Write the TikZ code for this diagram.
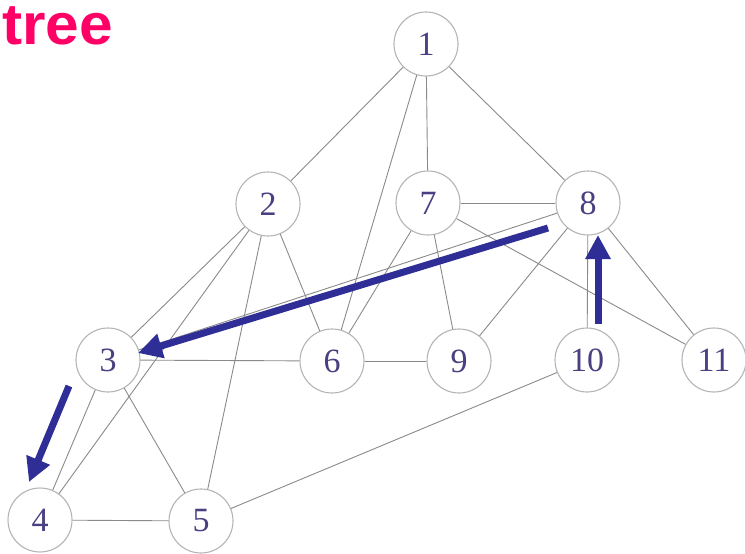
\documentclass[tikz,border=0pt]{standalone}
\usepackage{fontspec}
\setmainfont{Liberation Serif}
\newfontfamily\titlefont{Liberation Sans}
\usetikzlibrary{arrows.meta}
\definecolor{titlepink}{HTML}{FF0066}
\definecolor{numcol}{HTML}{4A3F80}
\definecolor{arrblue}{HTML}{2E2E96}
\definecolor{edgegray}{HTML}{8A8A8A}
\definecolor{circgray}{HTML}{B4B4B4}
\tikzset{
  vtx/.style={circle, draw=circgray, line width=1.1pt, minimum size=64pt, inner sep=0pt,
              text=numcol, font=\fontsize{34}{34}\selectfont},
  edge/.style={draw=edgegray, line width=0.9pt},
  bluearr/.style={draw=arrblue, line width=7pt, -{Triangle[length=24pt,width=24pt]}}
}
\begin{document}
\begin{tikzpicture}[x=1pt,y=-1pt]
\useasboundingbox (0,0) rectangle (745,554);
\node[anchor=base west, inner sep=0pt, text=titlepink, xscale=1.04, font=\titlefont\bfseries\fontsize{58}{58}\selectfont] (title) at (2,45) {tree};
\node[vtx] (n1) at (426,44) {1};
\node[vtx] (n2) at (268,204) {2};
\node[vtx] (n7) at (428,203) {7};
\node[vtx] (n8) at (588,203) {8};
\node[vtx] (n3) at (108,360) {3};
\node[vtx] (n6) at (332,361) {6};
\node[vtx] (n9) at (459,361) {9};
\node[vtx] (n10) at (587,360) {10};
\node[vtx] (n11) at (714,360) {11};
\node[vtx] (n4) at (40,520) {4};
\node[vtx] (n5) at (201,521) {5};
\path[edge] (n1) -- (n2);
\path[edge] (n1) -- (n6);
\path[edge] (n1) -- (n7);
\path[edge] (n1) -- (n8);
\path[edge] (n2) -- (n3);
\path[edge] (n2) -- (n4);
\path[edge] (n2) -- (n5);
\path[edge] (n2) -- (n6);
\path[edge] (n7) -- (n8);
\path[edge] (n7) -- (n6);
\path[edge] (n7) -- (n9);
\path[edge] (n7) -- (n11);
\path[edge] (n8) -- (n3);
\path[edge] (n8) -- (n9);
\path[edge] (n8) -- (n10);
\path[edge] (n8) -- (n11);
\path[edge] (n3) -- (n6);
\path[edge] (n6) -- (n9);
\path[edge] (n3) -- (n4);
\path[edge] (n3) -- (n5);
\path[edge] (n4) -- (n5);
\path[edge] (n5) -- (n10);
\coordinate (a1s) at (548,228);
\coordinate (a1e) at (138,353);
\coordinate (a2s) at (69,386);
\coordinate (a2e) at (29,482);
\coordinate (a3s) at (598,324);
\coordinate (a3e) at (598,235);
\draw[bluearr] (a1s) -- (a1e);
\draw[bluearr] (a2s) -- (a2e);
\draw[bluearr] (a3s) -- (a3e);
\end{tikzpicture}
\end{document}
